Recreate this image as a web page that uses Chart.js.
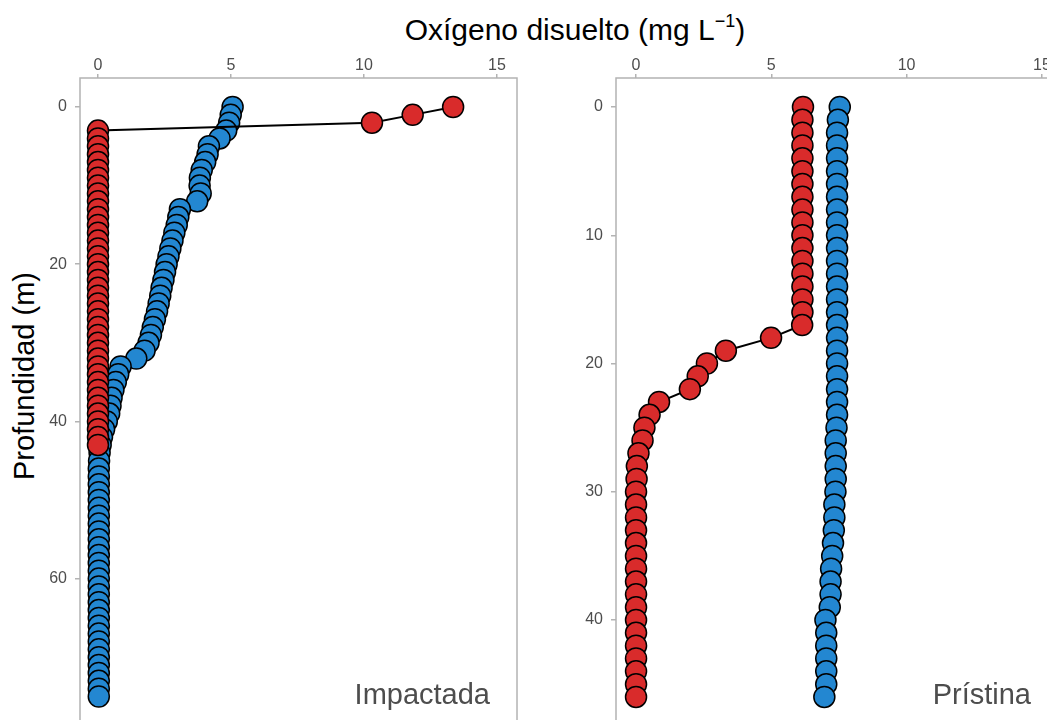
<!DOCTYPE html>
<html>
<head>
<meta charset="utf-8">
<script src="https://cdn.jsdelivr.net/npm/chart.js@4.4.1/dist/chart.umd.min.js"></script>
<style>
  html, body { margin: 0; padding: 0; background: #fff; overflow: hidden; width: 1047px; height: 720px; }
  body { position: relative; font-family: "Liberation Sans", Arial, sans-serif; }
  .txt { position: absolute; line-height: 1; white-space: nowrap; }
  #title { left: 0; width: 1150px; text-align: center; top: 15px; font-size: 30px; color: #000; }
  #title sup { font-size: 18px; line-height: 0; position: relative; top: -2px; }
  #ytitle { left: 24px; top: 376px; font-size: 29px; color: #000; transform: translate(-50%, -50%) rotate(-90deg); }
  .panel { font-size: 29px; color: #4d4d4d; top: 680px; }
  #lab1 { left: 0; width: 490px; text-align: right; }
  #lab2 { left: 0; width: 1031px; text-align: right; }
  canvas { position: absolute; top: 0; }
  #impChart { left: 0; }
  #priChart { left: 530px; }
</style>
</head>
<body>
<div id="title" class="txt">Oxígeno disuelto (mg L<sup>−1</sup>)</div>
<div id="ytitle" class="txt">Profundidad (m)</div>
<canvas id="impChart" width="525" height="740"></canvas>
<canvas id="priChart" width="530" height="740"></canvas>
<div id="lab1" class="txt panel">Impactada</div>
<div id="lab2" class="txt panel">Prístina</div>

<script>
// oxygen profiles

// tick labels
const xTicks = [0, 5, 10, 15];
const impYTicks = [0, 20, 40, 60];
const priYTicks = [0, 10, 20, 30, 40];

// Impactada - red profile
const impRedDepth = [0, 1, 2, 3, 4, 5, 6, 7, 8, 9, 10, 11, 12, 13, 14, 15, 16, 17, 18, 19, 20,
  21, 22, 23, 24, 25, 26, 27, 28, 29, 30, 31, 32, 33, 34, 35, 36, 37, 38, 39, 40, 41, 42, 43];
const impRedOx = [13.35, 11.83, 10.3, 0, 0, 0, 0, 0, 0, 0, 0, 0, 0, 0, 0, 0, 0, 0, 0, 0, 0,
  0, 0, 0, 0, 0, 0, 0, 0, 0, 0, 0, 0, 0, 0, 0, 0, 0, 0, 0, 0, 0, 0, 0];

// Impactada - blue profile
const impBlueDepth = [0, 1, 2, 3, 4, 5, 6, 7, 8, 9, 10, 11, 12, 13, 14, 15, 16, 17, 18, 19,
  20, 21, 22, 23, 24, 25, 26, 27, 28, 29, 30, 31, 32, 33, 34, 35, 36, 37, 38, 39,
  40, 41, 42, 43, 44, 45, 46, 47, 48, 49, 50, 51, 52, 53, 54, 55, 56, 57, 58, 59,
  60, 61, 62, 63, 64, 65, 66, 67, 68, 69, 70, 71, 72, 73, 74, 75];
const impBlueOx = [5.06, 4.99, 4.93, 4.82, 4.57, 4.17, 4.12, 4.03, 3.9, 3.83, 3.82, 3.86, 3.73, 3.08, 3.02, 2.96, 2.87, 2.8, 2.72, 2.65,
  2.58, 2.52, 2.46, 2.39, 2.34, 2.28, 2.22, 2.14, 2.06, 1.99, 1.9, 1.75, 1.44, 0.85, 0.76, 0.67, 0.58, 0.51, 0.47, 0.42,
  0.33, 0.23, 0.15, 0.1, 0.06, 0.04, 0.03, 0.03, 0.03, 0.03, 0.03, 0.03, 0.03, 0.03, 0.03, 0.03, 0.03, 0.03, 0.03, 0.03,
  0.03, 0.03, 0.03, 0.03, 0.03, 0.03, 0.03, 0.03, 0.03, 0.03, 0.03, 0.03, 0.03, 0.03, 0.03, 0.03];

// Pristina - red profile
const priRedDepth = [0, 1, 2, 3, 4, 5, 6, 7, 8, 9, 10, 11, 12, 13, 14, 15, 16, 17, 18, 19, 20, 21, 22, 23,
  24, 25, 26, 27, 28, 29, 30, 31, 32, 33, 34, 35, 36, 37, 38, 39, 40, 41, 42, 43, 44, 45, 46];
const priRedOx = [6.17, 6.15, 6.15, 6.15, 6.15, 6.15, 6.15, 6.15, 6.15, 6.15, 6.15, 6.15, 6.15, 6.15, 6.15, 6.15, 6.15, 6.14, 4.99, 3.32, 2.62, 2.28, 1.99, 0.85,
  0.5, 0.31, 0.24, 0.09, 0.03, 0.02, 0, 0, 0, 0, 0, 0, 0, 0, 0, 0, 0, 0, 0, 0, 0, 0, 0];

// Pristina - blue profile
const priBlueDepth = [0, 1, 2, 3, 4, 5, 6, 7, 8, 9, 10, 11, 12, 13, 14, 15, 16, 17, 18, 19, 20, 21, 22, 23,
  24, 25, 26, 27, 28, 29, 30, 31, 32, 33, 34, 35, 36, 37, 38, 39, 40, 41, 42, 43, 44, 45, 46];
const priBlueOx = [7.53, 7.46, 7.43, 7.43, 7.43, 7.43, 7.43, 7.43, 7.43, 7.43, 7.43, 7.43, 7.43, 7.43, 7.43, 7.43, 7.43, 7.43, 7.43, 7.43, 7.43, 7.43, 7.43, 7.43,
  7.43, 7.41, 7.38, 7.38, 7.38, 7.38, 7.37, 7.33, 7.33, 7.31, 7.28, 7.25, 7.21, 7.19, 7.19, 7.16, 7.0, 7.03, 7.03, 7.03, 7.03, 7.03, 6.96];

const RED = "#d92b2b";
const BLUE = "#2387d1";
const AXIS_GREY = "#b3b3b3";
const LABEL_GREY = "#4d4d4d";
const FONT = "'Liberation Sans', Arial, sans-serif";

Chart.defaults.font.family = FONT;

// box around the plotting area
const framePlugin = {
  id: "frame",
  beforeDatasetsDraw(chart) {
    const a = chart.chartArea;
    const ctx = chart.ctx;
    ctx.save();
    ctx.strokeStyle = AXIS_GREY;
    ctx.lineWidth = 1.5;
    ctx.strokeRect(a.left, a.top, a.right - a.left, a.bottom - a.top);
    ctx.restore();
  },
};

function toPoints(depths, ox) {
  const pts = [];
  depths.forEach((d, i) => pts.push({ x: ox[i], y: d }));
  return pts;
}

function profile(depths, ox, colour) {
  return {
    data: toPoints(depths, ox),
    showLine: true,
    borderColor: "#000",
    borderWidth: 2,
    tension: 0,
    pointRadius: 10.5,
    pointHoverRadius: 10.5,
    pointBackgroundColor: colour,
    pointBorderColor: "#000",
    pointBorderWidth: 1.5,
    clip: false,
  };
}

// zero = pixel (inside the canvas) where value 0 sits, ppu = pixels per unit
function makeChart(id, datasets, xZero, xPpu, yZero, yPpu, yTicks, yWidth, padRight) {
  const ctx = document.getElementById(id).getContext("2d");
  const chart = new Chart(ctx, {
    type: "scatter",
    data: { datasets: datasets },
    options: {
      responsive: false,
      devicePixelRatio: 1,
      animation: false,
      events: [],
      layout: { autoPadding: false, padding: { left: 0, top: 0, right: padRight, bottom: 4 } },
      plugins: { legend: { display: false }, tooltip: { enabled: false } },
      scales: {
        x: {
          type: "linear",
          position: "top",
          min: 0,
          max: 15,
          afterBuildTicks: (s) => { s.ticks = xTicks.map((v) => ({ value: v })); },
          afterFit: (s) => { s.height = 78; },
          ticks: { color: LABEL_GREY, font: { size: 16 }, padding: -1 },
          grid: { drawOnChartArea: false, drawTicks: true, tickLength: 4, color: AXIS_GREY, lineWidth: 1.5 },
          border: { display: false },
        },
        y: {
          type: "linear",
          position: "left",
          reverse: true,
          min: 0,
          max: 50,
          afterBuildTicks: (s) => { s.ticks = yTicks.map((v) => ({ value: v })); },
          afterFit: (s) => { s.width = yWidth; },
          ticks: { color: LABEL_GREY, font: { size: 16 }, padding: 8 },
          grid: { drawOnChartArea: false, drawTicks: true, tickLength: 5, color: AXIS_GREY, lineWidth: 1.5 },
          border: { display: false },
        },
      },
    },
    plugins: [framePlugin],
  });
  // fit the axis ranges to the plotting area that the layout gave
  const a = chart.chartArea;
  const sx = chart.options.scales.x;
  const sy = chart.options.scales.y;
  sx.min = (a.left - xZero) / xPpu;
  sx.max = (a.right - xZero) / xPpu;
  sy.min = (a.top - yZero) / yPpu;
  sy.max = (a.bottom - yZero) / yPpu;
  chart.update();
  return chart;
}

makeChart("impChart",
  [profile(impRedDepth, impRedOx, RED), profile(impBlueDepth, impBlueOx, BLUE)],
  98, 26.6, 107, 7.86, impYTicks, 80, 8);

makeChart("priChart",
  [profile(priRedDepth, priRedOx, RED), profile(priBlueDepth, priBlueOx, BLUE)],
  106, 27, 107, 12.825, priYTicks, 86, 7);
</script>
</body>
</html>
